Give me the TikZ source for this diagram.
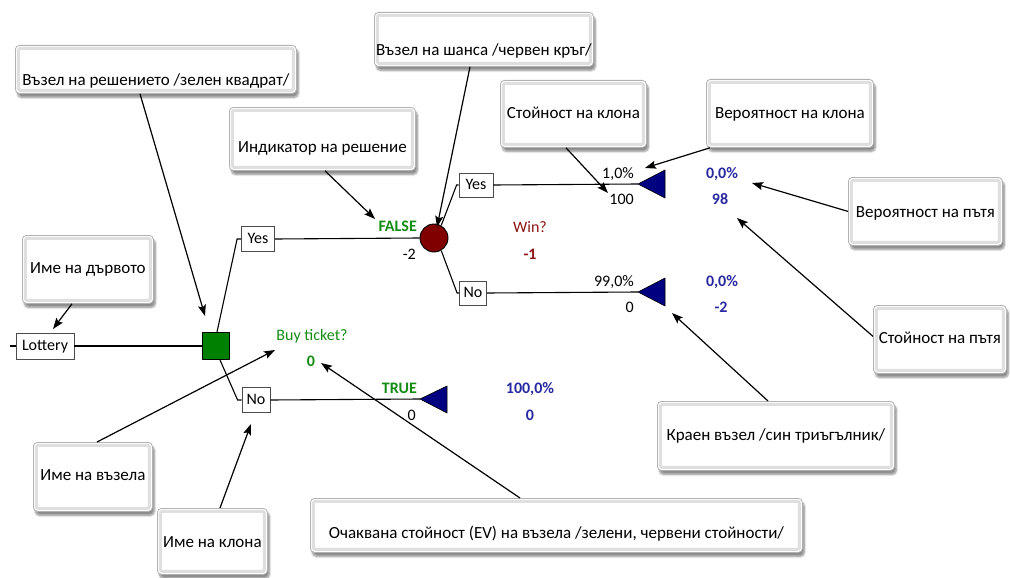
\documentclass[tikz,border=0pt]{standalone}
\usepackage{fontspec}
\setmainfont{Carlito}
\usetikzlibrary{arrows.meta,shadows.blur,calc}
\definecolor{tgreen}{RGB}{0,128,0}
\definecolor{tred}{RGB}{128,0,0}
\definecolor{tnavy}{RGB}{0,0,128}
\definecolor{txtgreen}{RGB}{20,140,20}
\definecolor{txtnavy}{RGB}{40,40,160}
\definecolor{txtred}{RGB}{140,20,20}
\tikzset{
  callout/.style={draw=gray!60, fill=white, rounded corners=4pt, line width=0.8pt,
    blur shadow={shadow xshift=2pt, shadow yshift=-4pt, shadow blur steps=8, shadow opacity=45},
    inner xsep=0pt, inner ysep=0pt, font=\fontsize{17}{20}\selectfont,
    path picture={\draw[gray!25, line width=3pt, rounded corners=2pt]
      ([shift={(3pt,-3pt)}]path picture bounding box.north west) rectangle
      ([shift={(-3pt,3pt)}]path picture bounding box.south east);}},
  callarrow/.style={line width=1.2pt, -{Stealth[length=11pt,width=8pt,inset=2pt]}},
  treeline/.style={line width=1.1pt, draw=black},
  lblbox/.style={draw=black!70, fill=white, line width=0.8pt, inner sep=0pt,
    font=\fontsize{16}{19}\selectfont, text height=11pt, text depth=3pt},
  tt/.style={font=\fontsize{16}{19}\selectfont, inner sep=0pt, text height=11pt, text depth=3pt},
  ttb/.style={tt, font=\fontsize{16}{19}\selectfont\bfseries},
  endtri/.style={fill=tnavy, draw=black, line width=0.6pt, line join=miter},
}
\newcommand\callbox[7]{%
  \pgfmathsetmacro\cbw{#4-#2}%
  \pgfmathsetmacro\cbth{#6+5.5-#3}%
  \pgfmathsetmacro\cbtd{#5-#6-5.5}%
  \node[callout, anchor=north west, minimum width=\cbw pt, text height=\cbth pt, text depth=\cbtd pt] (#1) at (#2,#3) {#7};%
}
\begin{document}
\begin{tikzpicture}[x=1pt,y=-1pt]
\useasboundingbox (0,0) rectangle (1010,578);

% ---- tree ----
\node[lblbox, minimum width=58pt, minimum height=26pt] (lot) at (45,346) {Lottery};
\node[draw=black, fill=tgreen, line width=0.9pt, minimum size=27pt, inner sep=0pt] (sq) at (216,346) {};
\node[lblbox, minimum width=33pt, minimum height=25pt] (yes1) at (258,239) {Yes};
\node[lblbox, minimum width=28pt, minimum height=25pt] (no1) at (256,400) {No};
\node[circle, draw=black, fill=tred, line width=0.9pt, minimum size=28pt, inner sep=0pt] (circ) at (434,238) {};
\node[lblbox, minimum width=34pt, minimum height=24pt] (yes2) at (476,185) {Yes};
\node[lblbox, minimum width=27pt, minimum height=24pt] (no2) at (473,293) {No};

\coordinate (e1) at (638,184);
\coordinate (e2) at (638,292);
\coordinate (e3) at (420,399);

\draw[treeline] (lot.west) -- ++(-6,0);
\draw[treeline] (lot.east) -- (sq.west);
\draw[treeline] ([xshift=1pt]sq.north) -- ([xshift=-4pt]yes1.west) -- (yes1.west);
\draw[treeline] ([xshift=4pt]sq.south) -- ([xshift=-4pt]no1.west) -- (no1.west);
\draw[treeline] (yes1.east) -- (circ.west);
\draw[treeline] (no1.east) -- (e3);
\draw[treeline] (circ.60) -- ([xshift=-2pt]yes2.west) -- (yes2.west);
\draw[treeline] (circ.-60) -- ([xshift=-2pt]no2.west) -- (no2.west);
\draw[treeline] (yes2.east) -- (e1);
\draw[treeline] (no2.east) -- (e2);

\draw[endtri] (e1) -- ++(27,-14) -- ++(0,28) -- cycle;
\draw[endtri] (e2) -- ++(27,-14) -- ++(0,28) -- cycle;
\draw[endtri] (e3) -- ++(27,-13) -- ++(0,27) -- cycle;

% ---- tree labels ----
\node[tt, text=txtgreen] (bt) at (312,336) {Buy ticket?};
\node[ttb, text=txtgreen] (btv) at (311,362) {0};
\node[ttb, text=txtgreen, anchor=east] (fls) at (417,227) {FALSE};
\node[tt, anchor=east] (flsv) at (416,255) {-2};
\node[tt, text=txtred] (win) at (530,228) {Win?};
\node[ttb, text=txtred] (winv) at (530,255) {-1};
\node[tt, anchor=east] (p1) at (634,174) {1,0\%};
\node[tt, anchor=east] (v1) at (634,200) {100};
\node[tt, anchor=east] (p2) at (634,282) {99,0\%};
\node[tt, anchor=east] (v2) at (634,308) {0};
\node[ttb, text=txtnavy] (pp1) at (722,174) {0,0\%};
\node[ttb, text=txtnavy] (pv1) at (720,200) {98};
\node[ttb, text=txtnavy] (pp2) at (722,282) {0,0\%};
\node[ttb, text=txtnavy] (pv2) at (721,308) {-2};
\node[ttb, text=txtgreen, anchor=east] (tru) at (417,389) {TRUE};
\node[tt, anchor=east] (truv) at (416,416) {0};
\node[ttb, text=txtnavy] (pp3) at (530,389) {100,0\%};
\node[ttb, text=txtnavy] (pv3) at (530,416) {0};

% ---- callouts ----
\callbox{b1}{15}{45}{296}{93}{80}{Възел на решението /зелен квадрат/}
\callbox{b2}{22}{235}{153}{303}{268}{Име на дървото}
\callbox{b3}{229}{107}{415}{170}{147}{Индикатор на решение}
\callbox{b4}{374}{12}{593}{66}{50}{Възел на шанса /червен кръг/}
\callbox{b5}{500}{80}{646}{147}{113}{Стойност на клона}
\callbox{b6}{706}{79}{873}{147}{113}{Вероятност на клона}
\callbox{b7}{848}{177}{1002}{245}{212}{Вероятност на пътя}
\callbox{b8}{873}{305}{1006}{373}{338}{Стойност на пътя}
\callbox{b9}{657}{401}{894}{470}{435}{Краен възел /син триъгълник/}
\callbox{b10}{310}{498}{802}{552}{533}{Очаквана стойност (EV) на възела /зелени, червени стойности/}
\callbox{b11}{33}{442}{152}{511}{475}{Име на възела}
\callbox{b12}{157}{508}{267}{574}{542}{Име на клона}

% ---- arrow targets ----
\coordinate (t1) at (205,316);
\coordinate (t2) at (53,329);
\coordinate (t3) at (375,219);
\coordinate (t4) at (437,227);
\coordinate (t5) at (608,193);
\coordinate (t6) at (645,168);
\coordinate (t7) at (752,183);
\coordinate (t8) at (737,218);
\coordinate (t9) at (672,313);
\coordinate (t10) at (321,363);
\coordinate (t11) at (275,350);
\coordinate (t12) at (251,424);

\draw[callarrow] ([xshift=125pt]b1.south west) -- (t1);
\draw[callarrow] ([xshift=50pt]b2.south west) -- (t2);
\draw[callarrow] ([xshift=96pt]b3.south west) -- (t3);
\draw[callarrow] ([xshift=96pt]b4.south west) -- (t4);
\draw[callarrow] ([xshift=66pt]b5.south west) -- (t5);
\draw[callarrow] ([xshift=4pt]b6.south west) -- (t6);
\draw[callarrow] (b7.west) -- (t7);
\draw[callarrow] ([yshift=3pt]b8.west) -- (t8);
\draw[callarrow] ([xshift=111pt]b9.north west) -- (t9);
\draw[callarrow] ([xshift=210pt]b10.north west) -- (t10);
\draw[callarrow] ([xshift=64pt]b11.north west) -- (t11);
\draw[callarrow] ([xshift=63pt]b12.north west) -- (t12);
\end{tikzpicture}
\end{document}
